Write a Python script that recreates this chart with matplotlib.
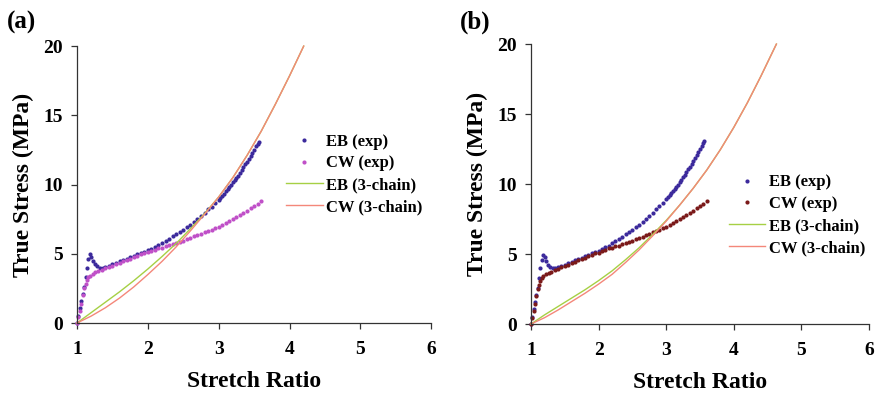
import numpy as np
import matplotlib
matplotlib.use("Agg")
import matplotlib.pyplot as plt

plt.rcParams['font.family'] = ['Liberation Serif', 'DejaVu Serif']
plt.rcParams['font.weight'] = 'bold'

# experimental data (same tests shown in both panels)
eb_x = [1.00, 1.02, 1.04, 1.06, 1.08, 1.10, 1.12, 1.14, 1.16, 1.18, 1.20, 1.22,
        1.25, 1.28, 1.32, 1.36, 1.40, 1.45, 1.50, 1.55, 1.60, 1.65, 1.70, 1.75,
        1.80, 1.85, 1.90, 1.95, 2.00, 2.05, 2.10, 2.15, 2.20, 2.25, 2.30, 2.35,
        2.40, 2.45, 2.50, 2.55, 2.60, 2.65, 2.70, 2.75, 2.80, 2.85, 2.90, 2.95,
        3.00, 3.025, 3.05, 3.075, 3.10, 3.125, 3.15, 3.175, 3.20, 3.225, 3.25, 3.275,
        3.30, 3.325, 3.35, 3.375, 3.40, 3.425, 3.45, 3.475, 3.50, 3.525, 3.55, 3.565]
eb_y = [0.0, 0.5, 1.1, 1.6, 2.1, 2.6, 3.3, 4.0, 4.6, 4.95, 4.8, 4.5,
        4.25, 4.1, 4.0, 4.0, 4.05, 4.15, 4.25, 4.35, 4.45, 4.55, 4.65, 4.75,
        4.85, 4.95, 5.05, 5.15, 5.25, 5.35, 5.5, 5.6, 5.8, 5.95, 6.1, 6.25,
        6.45, 6.6, 6.75, 6.95, 7.1, 7.3, 7.5, 7.75, 7.95, 8.2, 8.4, 8.65,
        8.9, 9.05, 9.2, 9.35, 9.5, 9.65, 9.8, 9.95, 10.15, 10.3, 10.5, 10.65,
        10.85, 11.05, 11.25, 11.45, 11.65, 11.85, 12.05, 12.3, 12.5, 12.75, 12.95, 13.05]

cw_x = [1.00, 1.02, 1.04, 1.06, 1.08, 1.10, 1.12, 1.14, 1.16, 1.18, 1.22, 1.26,
        1.30, 1.35, 1.40, 1.45, 1.50, 1.55, 1.60, 1.65, 1.70, 1.75, 1.80, 1.85,
        1.90, 1.95, 2.00, 2.05, 2.10, 2.15, 2.20, 2.25, 2.30, 2.35, 2.40, 2.45,
        2.50, 2.55, 2.60, 2.65, 2.70, 2.75, 2.80, 2.85, 2.90, 2.95, 3.00, 3.05,
        3.10, 3.15, 3.20, 3.25, 3.30, 3.35, 3.40, 3.45, 3.50, 3.55, 3.60]
cw_y = [0.0, 0.4, 0.9, 1.4, 2.0, 2.5, 2.8, 3.1, 3.3, 3.4, 3.55, 3.65,
        3.75, 3.85, 3.95, 4.05, 4.15, 4.25, 4.35, 4.45, 4.55, 4.65, 4.75, 4.85,
        4.95, 5.05, 5.1, 5.2, 5.3, 5.4, 5.45, 5.55, 5.6, 5.7, 5.8, 5.85,
        5.95, 6.05, 6.15, 6.25, 6.35, 6.45, 6.55, 6.65, 6.75, 6.85, 6.95, 7.1,
        7.2, 7.35, 7.5, 7.65, 7.8, 7.95, 8.1, 8.3, 8.45, 8.6, 8.8]

# 3-chain model, panel (a)
ma_x = [1.0, 1.2, 1.4, 1.6, 1.8, 2.0, 2.2, 2.4, 2.6, 2.8, 3.0, 3.2, 3.4, 3.6, 3.8, 4.0, 4.2]
ma_eb = [0.0, 0.75, 1.5, 2.25, 3.05, 3.9, 4.8, 5.75, 6.8, 7.9, 9.1, 10.5, 12.1, 13.85, 15.8, 17.85, 20.0]
ma_cw = [0.0, 0.5, 1.1, 1.8, 2.6, 3.5, 4.45, 5.5, 6.65, 7.85, 9.1, 10.5, 12.1, 13.85, 15.8, 17.85, 20.0]

# 3-chain model, panel (b)
mb_x = [1.0, 1.2, 1.4, 1.6, 1.8, 2.0, 2.2, 2.4, 2.6, 2.8, 3.0, 3.2, 3.4, 3.6, 3.8, 4.0, 4.2, 4.4, 4.6, 4.63]
mb_eb = [0.0, 0.65, 1.25, 1.85, 2.45, 3.1, 3.8, 4.6, 5.45, 6.4, 7.4, 8.5, 9.7, 11.0, 12.45, 14.05, 15.8, 17.7, 19.7, 20.0]
mb_cw = [0.0, 0.45, 1.0, 1.6, 2.2, 2.85, 3.55, 4.4, 5.3, 6.3, 7.35, 8.5, 9.7, 11.0, 12.45, 14.05, 15.8, 17.7, 19.7, 20.0]

c_eb = '#3c2a9c'
c_green = '#a6d044'
c_red = '#f4877a'

fig = plt.figure(figsize=(8.8, 4.01), dpi=100)
ax_a = fig.add_axes([0.0875, 0.1945, 0.4025, 0.6905])
ax_b = fig.add_axes([0.6034, 0.192, 0.3841, 0.698])

def setup(ax, mx, meb, mcw, cw_color, label, legend_pos):
    ax.plot(eb_x, eb_y, 'o', ms=3.0, color=c_eb, mec='none', label='EB (exp)', clip_on=False)
    ax.plot(cw_x, cw_y, 'o', ms=3.0, color=cw_color, mec='none', label='CW (exp)', clip_on=False)
    ax.plot(mx, meb, '-', lw=1.0, color=c_green, label='EB (3-chain)', clip_on=False)
    ax.plot(mx, mcw, '-', lw=1.0, color=c_red, label='CW (3-chain)', clip_on=False)
    ax.set_xlim(1, 6)
    ax.set_ylim(0, 20)
    ax.set_xticks([1, 2, 3, 4, 5, 6])
    ax.set_yticks([0, 5, 10, 15, 20])
    for s in ['top', 'right']:
        ax.spines[s].set_visible(False)
    for s in ['left', 'bottom']:
        ax.spines[s].set_color('#333333')
        ax.spines[s].set_linewidth(0.9)
    ax.tick_params(axis='both', direction='out', length=4, width=0.9,
                   color='#333333', labelsize=14)
    ax.tick_params(axis='x', pad=9)
    ax.tick_params(axis='y', pad=6)
    for t in ax.get_xticklabels() + ax.get_yticklabels():
        t.set_fontweight('bold')
    ax.set_xlabel('Stretch Ratio', fontsize=17, fontweight='bold', labelpad=9)
    ax.set_ylabel('True Stress (MPa)', fontsize=17, fontweight='bold', labelpad=7)
    leg = ax.legend(loc='upper left', bbox_to_anchor=legend_pos, bbox_transform=fig.transFigure,
                    frameon=False, fontsize=12, handlelength=2.2, handletextpad=0.2,
                    labelspacing=0.35, borderpad=0, borderaxespad=0, markerscale=1.0)
    for t in leg.get_texts():
        t.set_fontweight('bold')
    fig.text(label[1], label[2], label[0], fontsize=18, fontweight='bold', ha='left', va='center')

setup(ax_a, ma_x, ma_eb, ma_cw, '#c050c8', ('(a)', 0.008, 0.945), (0.325, 0.667))
setup(ax_b, mb_x, mb_eb, mb_cw, '#7b1a1a', ('(b)', 0.523, 0.945), (0.828, 0.565))

fig.savefig('out.png', dpi=100)
